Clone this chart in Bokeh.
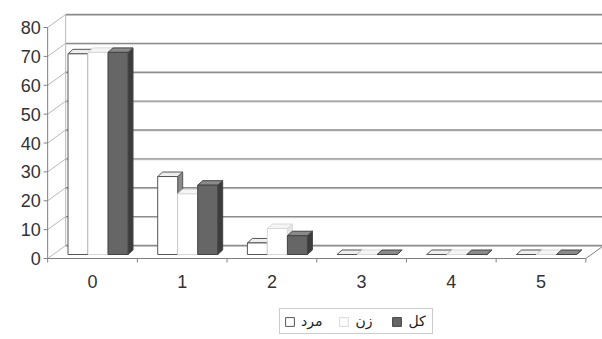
from bokeh.plotting import figure
from bokeh.models import Range1d, Legend, LegendItem, ColumnDataSource
from bokeh.core.properties import value
from bokeh.embed import file_html
from bokeh.resources import INLINE

# ---------------- data ----------------
categories = ["0", "1", "2", "3", "4", "5"]
male = [69.5, 27, 4, 0, 0, 0]      # مرد
female = [70, 21, 9, 0, 0, 0]      # زن
total = [70, 24, 6.5, 0, 0, 0]     # کل
series_names = ["مرد", "زن", "کل"]
y_ticks = [0, 10, 20, 30, 40, 50, 60, 70, 80]
y_tick_labels = ["0", "10", "20", "30", "40", "50", "60", "70", "80"]

# ---------------- layout constants (pixels) ----------------
W, H = 602, 339
PXC = 89.7      # px per category
PXV = 2.8875    # px per value unit
ORIGIN_X = 92   # px of category 0 centre on front plane
ORIGIN_Y = 258  # px (from top) of value 0 on front plane

def dx(px):
    return px / PXC

def dy(px):
    return px / PXV

x0 = -ORIGIN_X / PXC
x1 = x0 + W / PXC
y0 = -(H - ORIGIN_Y) / PXV
y1 = y0 + H / PXV

DX, DY = dx(18), dy(13)          # full depth of 3-D box
FX, FY = dx(5.5), dy(4)          # bar front plane offset
BX, BY = dx(5), dy(4.5)          # bar depth
BW = dx(20)                      # bar width
n = len(categories)
left_edge, right_edge = -0.5, n - 0.5
vmax = y_ticks[-1]

p = figure(width=W, height=H, x_range=Range1d(x0, x1), y_range=Range1d(y0, y1),
           toolbar_location=None, output_backend="svg", min_border=0)
p.axis.visible = False
p.grid.visible = False
p.outline_line_color = None
p.background_fill_color = "white"
p.border_fill_color = "white"

GRID = "#8c8c8c"
SIDE = "#b8b8b8"

# back wall gridlines (slight double-line look)
p.segment(x0=[left_edge + DX] * len(y_ticks), y0=[t + DY - dy(1) for t in y_ticks],
          x1=[right_edge + DX] * len(y_ticks), y1=[t + DY - dy(1) for t in y_ticks],
          line_color="#d4d4d4", line_width=1)
p.segment(x0=[left_edge + DX] * len(y_ticks), y0=[t + DY for t in y_ticks],
          x1=[right_edge + DX] * len(y_ticks), y1=[t + DY for t in y_ticks],
          line_color=GRID, line_width=1.3)
# back wall verticals
p.segment(x0=[left_edge + DX, right_edge + DX], y0=[DY, DY],
          x1=[left_edge + DX, right_edge + DX], y1=[vmax + DY, vmax + DY],
          line_color=[SIDE, "#d0d0d0"], line_width=1)
# side wall diagonals
p.segment(x0=[left_edge] * len(y_ticks), y0=y_ticks,
          x1=[left_edge + DX] * len(y_ticks), y1=[t + DY for t in y_ticks],
          line_color=SIDE, line_width=1)
# front axis line
p.segment(x0=[left_edge], y0=[0], x1=[left_edge], y1=[vmax],
          line_color="#808080", line_width=1)
# y tick marks
p.segment(x0=[left_edge - dx(4)] * len(y_ticks), y0=y_ticks,
          x1=[left_edge] * len(y_ticks), y1=y_ticks, line_color="#808080", line_width=1)
# floor front edge and right edge
p.segment(x0=[left_edge, right_edge], y0=[0, 0],
          x1=[right_edge, right_edge + DX], y1=[0, DY],
          line_color="#808080", line_width=1)
# x tick marks at category boundaries
bounds = [left_edge + i for i in range(n + 1)]
p.segment(x0=bounds, y0=[0] * len(bounds), x1=bounds, y1=[-dy(4)] * len(bounds),
          line_color="#808080", line_width=1)

# y tick labels
p.text(x=[left_edge - dx(7)] * len(y_ticks), y=y_ticks, text=y_tick_labels,
       text_align="right", text_baseline="middle", text_font=value("Liberation Sans"),
       text_font_size="18px", text_color="#333333")
# x tick labels
p.text(x=list(range(n)), y=[-dy(23)] * n, text=categories,
       text_align="center", text_baseline="middle", text_font=value("Liberation Sans"),
       text_font_size="18px", text_color="#333333")

styles = [
    dict(front="#ffffff", line="#555555", top="#eeeeee", side="#8a8a8a"),
    dict(front="#ffffff", line="#d8d8d8", top="#f5f5f5", side="#e6e6e6"),
    dict(front="#666666", line="#444444", top="#8a8a8a", side="#3c3c3c"),
]
offsets = [-BW, 0.0, BW]
front_renderers = []
for vals, off, st in zip([male, female, total], offsets, styles):
    lefts = [i + FX + off - BW / 2 for i in range(n)]
    rights = [l + BW for l in lefts]
    bots = [FY] * n
    tops = [v + FY for v in vals]
    side_xs = [[r, r + BX, r + BX, r] for r in rights]
    side_ys = [[b, b + BY, t + BY, t] for b, t in zip(bots, tops)]
    top_xs = [[l, r, r + BX, l + BX] for l, r in zip(lefts, rights)]
    top_ys = [[t, t, t + BY, t + BY] for t in tops]
    p.patches(xs=side_xs, ys=side_ys, fill_color=st["side"], line_color=st["line"], line_width=1)
    p.patches(xs=top_xs, ys=top_ys, fill_color=st["top"], line_color=st["line"], line_width=1)
    src = ColumnDataSource(dict(left=lefts, right=rights, bottom=bots, top=tops))
    r = p.quad(left="left", right="right", bottom="bottom", top="top", source=src,
               fill_color=st["front"], line_color=st["line"], line_width=1)
    front_renderers.append(r)

legend = Legend(items=[LegendItem(label=nm, renderers=[r]) for nm, r in zip(series_names, front_renderers)],
                location=(279, 5), orientation="horizontal",
                label_text_font="DejaVu Sans", label_text_font_size="14px",
                label_text_color="#222222",
                glyph_width=11, glyph_height=11, label_standoff=6, spacing=16,
                padding=4, margin=0, border_line_color="#999999",
                background_fill_color="white", background_fill_alpha=1)
p.add_layout(legend)

open("out.html", "w").write(file_html(p, INLINE))
